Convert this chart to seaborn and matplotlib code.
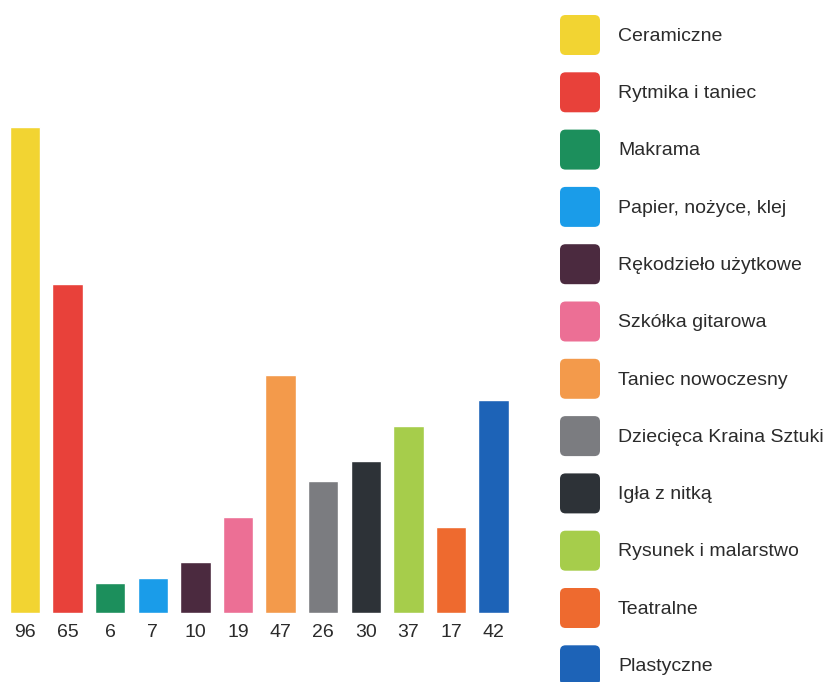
import matplotlib
matplotlib.use("Agg")
import pandas as pd
import seaborn as sns
import matplotlib.pyplot as plt
from matplotlib.patches import FancyBboxPatch, Patch
from matplotlib.legend_handler import HandlerPatch

categories = ["Ceramiczne", "Rytmika i taniec", "Makrama", "Papier, nożyce, klej",
              "Rękodzieło użytkowe", "Szkółka gitarowa", "Taniec nowoczesny",
              "Dziecięca Kraina Sztuki", "Igła z nitką", "Rysunek i malarstwo",
              "Teatralne", "Plastyczne"]
values = [96, 65, 6, 7, 10, 19, 47, 26, 30, 37, 17, 42]
colors = ["#f2d432", "#e8413a", "#1c8f5c", "#1a9ce9", "#4b2a3f", "#ec6f95",
          "#f39a4b", "#7b7c80", "#2d3237", "#a6cd4b", "#ee6a2f", "#1d63b7"]

sns.set_style("white")
plt.rcParams['font.family'] = ['Liberation Sans', 'DejaVu Sans']

df = pd.DataFrame({"kategoria": categories, "liczba": values})
palette = dict(zip(categories, colors))

fig = plt.figure(figsize=(8.28, 6.82), dpi=100)
ax = fig.add_axes([0, 1 - 613 / 682, 520 / 828, 506 / 682])

sns.barplot(data=df, x="kategoria", y="liczba", hue="kategoria", order=categories,
            hue_order=categories, palette=palette, saturation=1, width=0.71,
            legend=False, ax=ax)

ax.set_xlim(-0.587, 11.62)
ax.set_ylim(0, 100)
ax.set_xticks(range(len(categories)))
ax.set_xticklabels([str(v) for v in values], fontsize=14, color="#2b2b2b")
ax.tick_params(axis="x", length=0, pad=8)
ax.set_yticks([])
ax.set(xlabel=None, ylabel=None)
for s in ax.spines.values():
    s.set_visible(False)


class RoundHandler(HandlerPatch):
    def create_artists(self, legend, orig_handle, xdescent, ydescent, width,
                       height, fontsize, trans):
        p = FancyBboxPatch((-xdescent, -ydescent), width, height,
                           boxstyle="round,pad=0,rounding_size=4",
                           fc=orig_handle.get_facecolor(), ec="none",
                           transform=trans)
        return [p]


# legend sizes are in font units: fontsize 14pt ~ 19.4px
fs = 14
fpx = fs * 100 / 72
handles = [Patch(facecolor=c, label=n) for n, c in zip(categories, colors)]
leg = fig.legend(handles=handles, loc="upper left",
                 bbox_to_anchor=(560 / 828, 1 - 15 / 682),
                 frameon=False, fontsize=fs, borderpad=0, borderaxespad=0,
                 handlelength=40 / fpx, handleheight=(40 / fpx - 0.245) / 0.65,
                 handletextpad=18 / fpx, labelspacing=17.3 / fpx,
                 handler_map={Patch: RoundHandler()})
for t in leg.get_texts():
    t.set_color("#2b2b2b")

fig.savefig("out.png", dpi=100)
